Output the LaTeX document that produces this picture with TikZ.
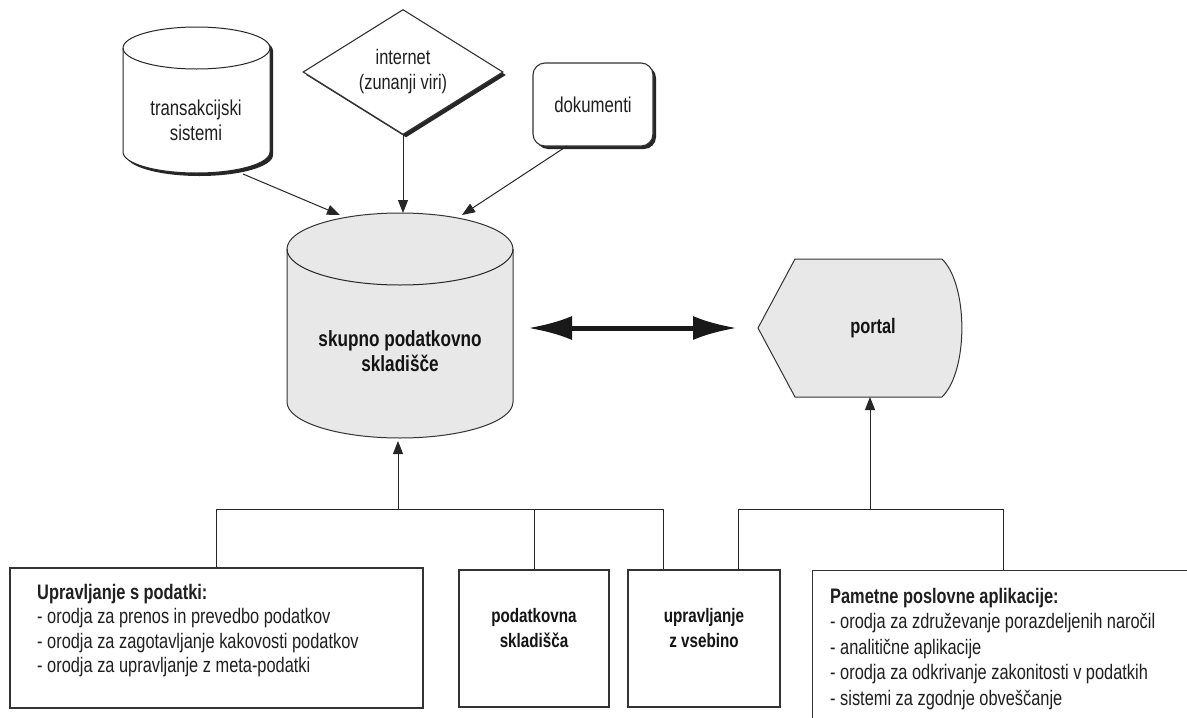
\documentclass[tikz,border=0pt]{standalone}
\usepackage{fontspec}
\setmainfont[FakeStretch=0.78]{Liberation Sans}
\usetikzlibrary{arrows.meta,calc,shapes.geometric,shadows}
\begin{document}
\begin{tikzpicture}[x=1pt,y=1pt,
  line/.style={draw=black!85, line width=1pt},
  arr/.style={line, -{Triangle[length=13pt,width=10pt]}},
  box/.style={draw=black!80, line width=1.1pt, fill=white},
  hardshadow/.style={drop shadow={fill=black!85, opacity=1, shadow xshift=3pt, shadow yshift=-3pt}},
  lbl/.style={font=\fontsize{21.5}{25}\selectfont, align=center, text=black!88, inner sep=0},
  blbl/.style={font=\fontsize{19.5}{25}\selectfont\bfseries, align=center, text=black!92, inner sep=0},
  listtxt/.style={font=\fontsize{21}{24.5}\selectfont, align=left, anchor=north west, text=black!88, inner sep=0},
  grayfill/.style={fill=black!9, draw=black!80, line width=1pt}
]
\useasboundingbox (0,0) rectangle (1187,-718);
\fill[white] (0,0) rectangle (1187,-718);

% ---------- transakcijski sistemi (cylinder with hard shadow)
\fill[black!85] (126,-51) arc[start angle=180,end angle=0,x radius=73.5pt,y radius=21pt]
  -- (273,-155) arc[start angle=0,end angle=-180,x radius=73.5pt,y radius=21pt] -- cycle;
\filldraw[fill=white, draw=black!85, line width=1pt] (123,-48) arc[start angle=180,end angle=0,x radius=73.5pt,y radius=21pt]
  -- (270,-152) arc[start angle=0,end angle=-180,x radius=73.5pt,y radius=21pt] -- cycle;
\draw[line] (123,-48) arc[start angle=180,end angle=360,x radius=73.5pt,y radius=21pt];
\node[lbl] (trans) at (196,-120) {transakcijski\\sistemi};
\coordinate (transOut) at (243,-174);

% ---------- internet (diamond)
\node[diamond, box, hardshadow, aspect=1.6, minimum width=200pt, minimum height=125pt, inner sep=0,
      lbl, font=\fontsize{21}{25}\selectfont] (inet) at (403,-72) {internet\\(zunanji viri)};

% ---------- dokumenti
\node[box, hardshadow, rounded corners=12pt, minimum width=120pt, minimum height=83pt, lbl]
  (doc) at (593,-104.5) {dokumenti};
\coordinate (docOut) at (567,-146);

% ---------- skupno podatkovno skladisce (big cylinder)
\filldraw[grayfill] (287,-249) arc[start angle=180,end angle=0,x radius=113pt,y radius=36pt]
  -- (513,-402) arc[start angle=0,end angle=-180,x radius=113pt,y radius=36pt] -- cycle;
\draw[line] (287,-249) arc[start angle=180,end angle=360,x radius=113pt,y radius=36pt];
\node[blbl, font=\fontsize{22}{25}\selectfont\bfseries] (wh) at (400,-351) {skupno podatkovno\\skladišče};
\coordinate (whInL) at (340,-215);
\coordinate (whInM) at (403,-213);
\coordinate (whInR) at (462,-215);
\coordinate (whBot) at (398,-441);
\coordinate (dblL) at (528,-328);
\coordinate (dblR) at (737,-328);

% ---------- portal
\filldraw[grayfill] (758,-328) -- (795,-259) -- (942,-259)
  .. controls (968.5,-285) and (968.5,-371) .. (942,-397) -- (795,-397) -- cycle;
\node[blbl, font=\fontsize{21}{25}\selectfont\bfseries] (portal) at (873,-328) {portal};
\coordinate (portBot) at (870,-397);

% ---------- top arrows
\draw[arr] (transOut) -- (whInL);
\draw[arr] (inet.south) -- (whInM);
\draw[arr] (docOut) -- (whInR);
\draw[line width=5pt, draw=black!90, {Latex[length=44pt,width=24pt]}-{Latex[length=44pt,width=24pt]}] (dblL) -- (dblR);

% ---------- bottom boxes
\node[box, minimum width=413pt, minimum height=140pt, inner sep=0] (lbox) at (216.5,-638) {};
\node[box, minimum width=150pt, minimum height=137pt, inner sep=0] (pbox) at (534,-638.5) {};
\node[box, minimum width=152pt, minimum height=137pt, inner sep=0] (ubox) at (704,-638.5) {};
\node[box, minimum width=390pt, minimum height=160pt, inner sep=0, anchor=north west] (abox) at (812,-570) {};

\node[listtxt] (ltxt) at (37,-584) {\textbf{Upravljanje s podatki:}\\
- orodja za prenos in prevedbo podatkov\\
- orodja za zagotavljanje kakovosti podatkov\\
- orodja za upravljanje z meta-podatki};
\node[blbl] (ptxt) at (534,-628) {podatkovna\\skladišča};
\node[blbl] (utxt) at (704,-628) {upravljanje\\z vsebino};
\node[listtxt, font=\fontsize{21}{25.5}\selectfont] (atxt) at (830,-588) {\textbf{Pametne poslovne aplikacije:}\\
- orodja za združevanje porazdeljenih naročil\\
- analitične aplikacije\\
- orodja za odkrivanje zakonitosti v podatkih\\
- sistemi za zgodnje obveščanje};

% ---------- tree connectors
\coordinate (hubL) at (398,-509);
\coordinate (hubR) at (870,-509);
\coordinate (dL1) at (216.5,-509);
\coordinate (dL2) at (534,-509);
\coordinate (dL3) at (663,-509);
\coordinate (dR1) at (738,-509);
\coordinate (dR2) at (1003,-509);
\draw[line] (dL1) -- (dL3);
\draw[line] (dL1) -- (lbox.north);
\draw[line] (dL2) -- (pbox.north);
\draw[line] (dL3) -- (dL3 |- ubox.north);
\draw[arr] (hubL) -- (whBot);
\draw[line] (dR1) -- (dR2);
\draw[line] (dR1) -- (dR1 |- ubox.north);
\draw[line] (dR2) -- (dR2 |- abox.north);
\draw[arr] (hubR) -- (portBot);
\end{tikzpicture}
\end{document}
